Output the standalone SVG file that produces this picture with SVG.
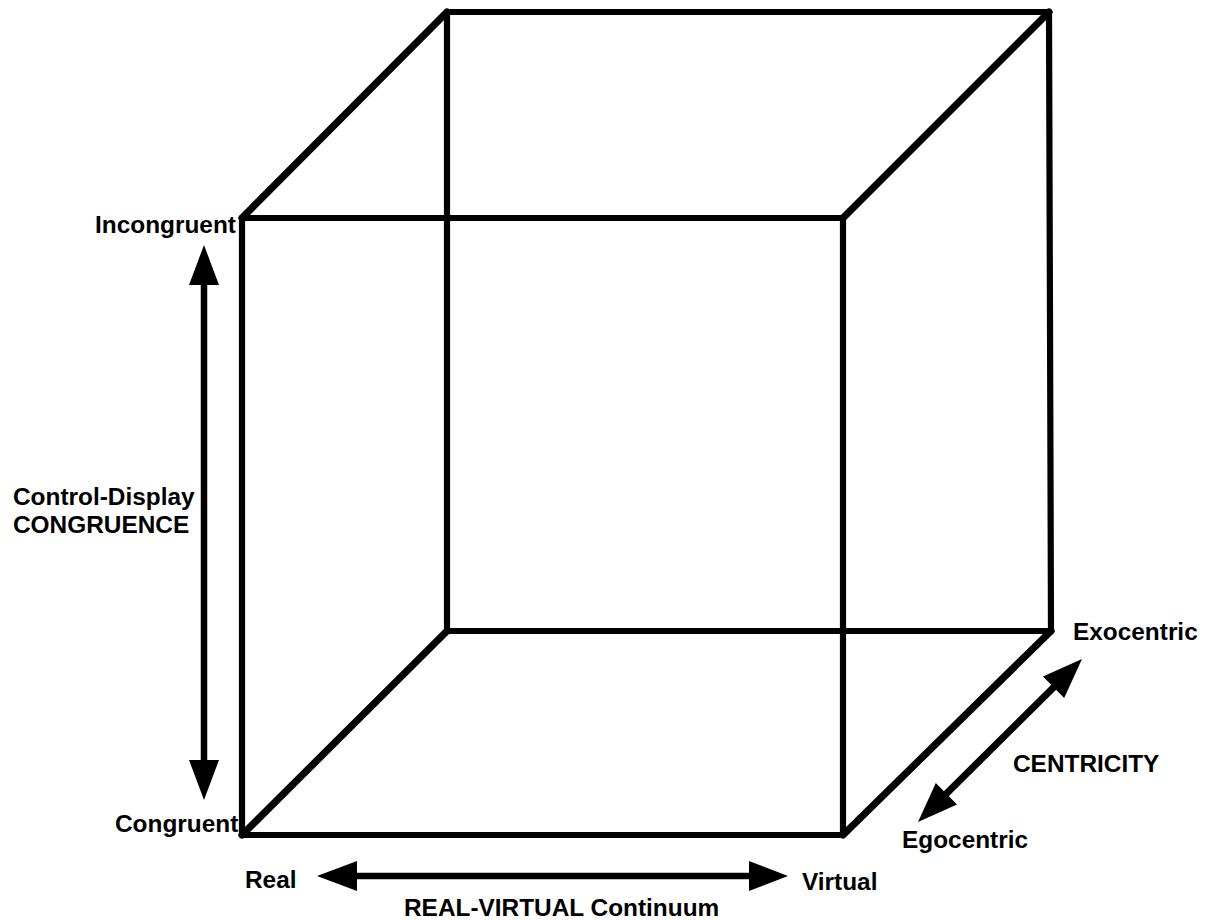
<svg xmlns="http://www.w3.org/2000/svg" width="1208" height="920" viewBox="0 0 1208 920">
<style>
.edge{stroke:#000;stroke-width:6.2;stroke-linecap:round;stroke-linejoin:round;fill:none}
.diag{stroke-width:7.2}
.shaft{stroke:#000;stroke-width:6.5;fill:none}
.head{fill:#000;stroke:none}
text{font-family:"Liberation Sans",Arial,sans-serif;font-weight:bold;font-size:24.4px;fill:#000}
</style>
<rect width="1208" height="920" fill="#fff"/>
<g id="cube">
<line class="edge" x1="447" y1="12" x2="1049" y2="12"/>
<line class="edge" x1="447" y1="12" x2="447" y2="631"/>
<line class="edge" x1="1049" y1="12" x2="1051" y2="631"/>
<line class="edge" x1="447" y1="631" x2="1051" y2="631"/>
<line class="edge" x1="242" y1="218" x2="843" y2="218"/>
<line class="edge" x1="242" y1="218" x2="242" y2="835"/>
<line class="edge" x1="843" y1="218" x2="843" y2="835"/>
<line class="edge" x1="242" y1="835" x2="843" y2="835"/>
<line class="edge diag" x1="242" y1="218" x2="447" y2="12"/>
<line class="edge diag" x1="843" y1="218" x2="1049" y2="12"/>
<line class="edge diag" x1="242" y1="835" x2="447" y2="631"/>
<line class="edge diag" x1="843" y1="835" x2="1051" y2="631"/>
</g>
<g id="connectors">
<g id="axis-congruence">
<line class="shaft" x1="204" y1="283" x2="204" y2="762"/>
<polygon class="head" points="204,245 189,285 219,285"/>
<polygon class="head" points="204,800 189,760 219,760"/>
</g>
<g id="axis-realvirtual">
<line class="shaft" x1="355" y1="876" x2="751" y2="876"/>
<polygon class="head" points="317,876 357,861 357,891"/>
<polygon class="head" points="788,876 749,861 749,891"/>
</g>
<g id="axis-centricity">
<line class="shaft" x1="1055" y1="686" x2="945" y2="795" style="stroke-width:7"/>
<polygon class="head" points="1082,659 1064.2,697.9 1043,676.6"/>
<polygon class="head" points="918,822 957,804.5 935.8,783.1"/>
</g>
</g>
<g id="labels">
<text x="95" y="233">Incongruent</text>
<text x="115" y="832">Congruent</text>
<text x="13" y="505">Control-Display</text>
<text x="13" y="533">CONGRUENCE</text>
<text x="245" y="888">Real</text>
<text x="802" y="890">Virtual</text>
<text x="404" y="916">REAL-VIRTUAL Continuum</text>
<text x="1073" y="640">Exocentric</text>
<text x="1013" y="772">CENTRICITY</text>
<text x="902" y="848">Egocentric</text>
</g>
</svg>
